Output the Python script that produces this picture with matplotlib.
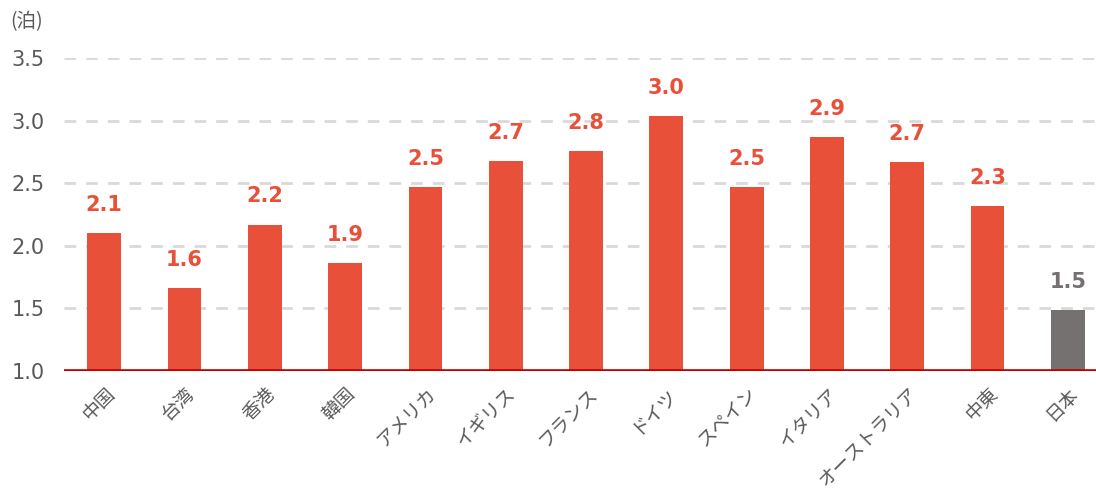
import matplotlib.pyplot as plt

plt.rcParams["font.family"] = ["DejaVu Sans", "Noto Sans CJK JP"]

categories = ["中国", "台湾", "香港", "韓国", "アメリカ", "イギリス", "フランス",
              "ドイツ", "スペイン", "イタリア", "オーストラリア", "中東", "日本"]
nights = [2.10, 1.66, 2.17, 1.86, 2.47, 2.68, 2.76, 3.04, 2.47, 2.87, 2.67, 2.32, 1.49]
value_labels = ["2.1", "1.6", "2.2", "1.9", "2.5", "2.7", "2.8",
                "3.0", "2.5", "2.9", "2.7", "2.3", "1.5"]
y_ticks = [1.0, 1.5, 2.0, 2.5, 3.0, 3.5]

RED = "#E8503A"
GRAY = "#767171"
TEXT = "#595959"
JP = ["Noto Sans CJK JP", "DejaVu Sans"]

fig = plt.figure(figsize=(10.96, 4.9), dpi=100)
ax = fig.add_axes([0.0584, 0.2429, 0.9416, 0.6387])

colors = [GRAY if c == "日本" else RED for c in categories]
x = list(range(len(categories)))
bars = ax.bar(x, [v - 1.0 for v in nights], bottom=1.0, width=0.42, color=colors, zorder=3)

for rect, lab, col in zip(bars, value_labels, colors):
    ax.annotate(lab, (rect.get_x() + rect.get_width() / 2, rect.get_y() + rect.get_height()),
                xytext=(0, 13), textcoords="offset points", ha="center", va="bottom",
                fontsize=15, fontweight="bold", color=col)

ax.set_xlim(-0.5, 12.35)
ax.set_ylim(1.0, 3.5)
ax.set_yticks(y_ticks)
ax.set_yticklabels([f"{t:.1f}" for t in y_ticks], fontsize=15, color=TEXT)
ax.yaxis.grid(True, color="#D9D9D9", linestyle=(0, (4.2, 3.6)), linewidth=2, zorder=0)
ax.axhline(1.0, color="#C00000", linewidth=2.6, zorder=4)

ax.set_xticks(x)
ax.set_xticklabels(categories, rotation=45, ha="right", rotation_mode="anchor",
                   fontsize=13.5, color=TEXT, family=JP)
ax.tick_params(axis="both", length=0)
ax.tick_params(axis="x", pad=9)
ax.tick_params(axis="y", pad=14)

for s in ax.spines.values():
    s.set_visible(False)

fig.text(0.009, 0.955, "(泊)", fontsize=14, color=TEXT, family=JP, va="center")

fig.savefig("out.png", dpi=100)
